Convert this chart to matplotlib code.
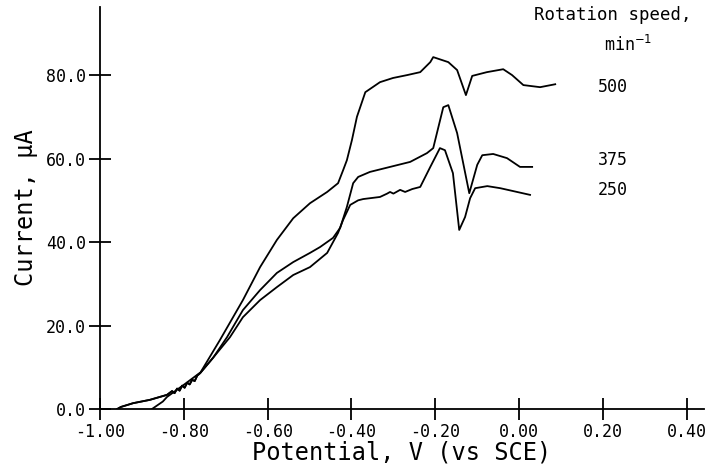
import matplotlib
matplotlib.use("Agg")
import matplotlib.pyplot as plt
import numpy as np

# rotating disk voltammograms
v_500 = [-0.876, -0.85, -0.84, -0.80, -0.76, -0.714, -0.659, -0.618, -0.578, -0.539,
         -0.499, -0.458, -0.432, -0.420, -0.411, -0.399, -0.387, -0.367, -0.332, -0.301,
         -0.267, -0.236, -0.212, -0.205, -0.169, -0.148, -0.127, -0.112, -0.077, -0.038,
         -0.017, 0.010, 0.050, 0.086]
i_500 = [0.0, 1.8, 2.9, 5.8, 8.8, 16.5, 26.1, 34.0, 40.5, 45.7,
         49.3, 52.0, 54.1, 57.2, 59.6, 64.4, 70.0, 75.9, 78.3, 79.3,
         80.0, 80.7, 83.1, 84.3, 83.1, 81.2, 75.2, 79.8, 80.7, 81.4,
         80.0, 77.6, 77.1, 77.8]

v_375 = [-0.959, -0.95, -0.921, -0.881, -0.84, -0.828, -0.822, -0.816, -0.81, -0.804,
         -0.798, -0.792, -0.786, -0.78, -0.774, -0.768, -0.761, -0.73, -0.697, -0.659,
         -0.618, -0.578, -0.539, -0.499, -0.475, -0.444, -0.427, -0.411, -0.396, -0.384,
         -0.356, -0.308, -0.26, -0.22, -0.205, -0.181, -0.169, -0.148, -0.119, -0.10,
         -0.088, -0.062, -0.029, 0.002, 0.031]
i_375 = [0.0, 0.5, 1.4, 2.2, 3.4, 4.3, 3.8, 4.9, 4.4, 5.6,
         5.1, 6.3, 5.9, 7.0, 6.7, 8.0, 8.6, 12.3, 17.2, 23.7,
         28.5, 32.6, 35.2, 37.4, 38.8, 41.0, 43.4, 48.4, 54.1, 55.6,
         56.8, 58.0, 59.2, 61.3, 62.5, 72.3, 72.8, 66.1, 51.7, 58.5,
         60.8, 61.1, 60.1, 58.0, 58.0]

v_250 = [-0.959, -0.95, -0.921, -0.881, -0.84, -0.828, -0.822, -0.816, -0.81, -0.804,
         -0.798, -0.792, -0.786, -0.78, -0.774, -0.768, -0.761, -0.73, -0.69, -0.659,
         -0.618, -0.578, -0.539, -0.499, -0.458, -0.432, -0.420, -0.403, -0.384, -0.372,
         -0.332, -0.315, -0.308, -0.30, -0.284, -0.272, -0.255, -0.236, -0.212, -0.189,
         -0.177, -0.158, -0.143, -0.129, -0.117, -0.105, -0.076, -0.045, -0.005, 0.026]
i_250 = [0.0, 0.5, 1.4, 2.2, 3.4, 4.3, 3.8, 4.9, 4.4, 5.6,
         5.1, 6.3, 5.9, 7.0, 6.7, 8.0, 8.6, 12.3, 17.2, 22.0,
         26.1, 29.2, 32.1, 34.0, 37.4, 42.2, 45.3, 48.9, 50.0, 50.3,
         50.8, 51.6, 52.0, 51.6, 52.5, 52.0, 52.7, 53.2, 58.0, 62.5,
         62.0, 56.5, 42.9, 46.0, 50.5, 52.9, 53.4, 52.9, 52.0, 51.3]

speeds = ["500", "375", "250"]
label_y = [77.1, 59.6, 52.5]

x_ticks = [-1.0, -0.8, -0.6, -0.4, -0.2, 0.0, 0.2, 0.4]
y_ticks = [0, 20, 40, 60, 80]

plt.rcParams['font.family'] = ['DejaVu Sans Mono', 'DejaVu Sans']

fig = plt.figure(figsize=(7.11, 4.68), dpi=100)
ax = fig.add_axes([0.1406, 0.126, 0.849, 0.859])

for v, cur in [(v_500, i_500), (v_375, i_375), (v_250, i_250)]:
    ax.plot(v, cur, color='black', lw=1.3)

ax.set_xlim(-1.0, 0.44)
ax.set_ylim(0, 96.3)
ax.spines['top'].set_visible(False)
ax.spines['right'].set_visible(False)
ax.spines['left'].set_linewidth(1.3)
ax.spines['bottom'].set_linewidth(1.3)

ax.set_xticks(x_ticks)
ax.set_xticklabels([f"{t:.2f}" for t in x_ticks])
ax.set_yticks(y_ticks)
ax.set_yticklabels([f"{t:.1f}" for t in y_ticks])
ax.tick_params(direction='inout', length=16, width=1.3, labelsize=12, pad=2)

ax.set_xlabel("Potential, V (vs SCE)", fontsize=17, labelpad=0)
ax.set_ylabel("Current, μA", fontsize=17, labelpad=6)

for s, yv in zip(speeds, label_y):
    ax.text(0.188, yv, s, fontsize=12, ha='left', va='center')

fig.text(0.862, 0.968, "Rotation speed,", fontsize=12.5, ha='center', va='center')
fig.text(0.883, 0.905, r"min$^{-1}$", fontsize=12, ha='center', va='center')

fig.savefig("out.png", dpi=100)
